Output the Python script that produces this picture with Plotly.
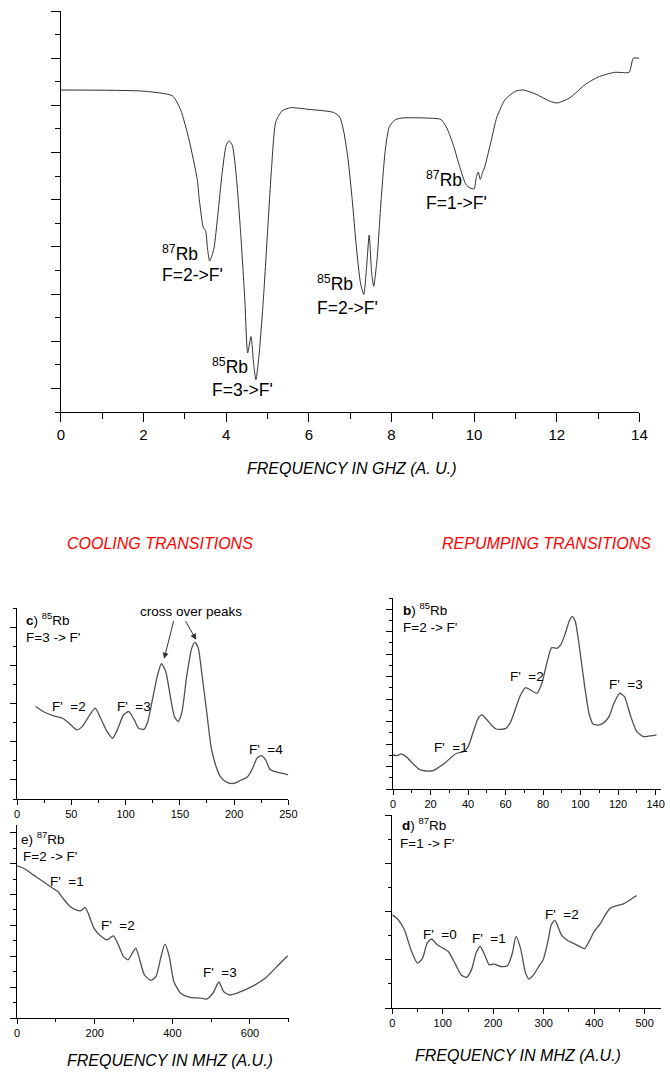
import plotly.graph_objects as go

# ---------------- data ----------------
# (a) full Rb absorption spectrum, frequency in GHz, signal in arbitrary units
top_freq = [0, 2.0, 2.7, 2.9, 3.1, 3.3, 3.35, 3.45, 3.5, 3.55, 3.6, 3.7, 3.8, 3.9, 4.0,
            4.07, 4.15, 4.25, 4.35, 4.45, 4.52, 4.6, 4.67, 4.72, 4.8, 4.9, 5.0, 5.1, 5.2, 5.35,
            5.55, 6.0, 6.6, 6.75, 6.85, 6.95, 7.05, 7.15, 7.25, 7.33, 7.4, 7.46, 7.52, 7.57, 7.65,
            7.75, 7.85, 7.95, 8.1, 8.3, 9.0, 9.2, 9.35, 9.5, 9.65, 9.8, 9.9, 10.0, 10.05, 10.1,
            10.15, 10.2, 10.25, 10.4, 10.55, 10.75, 11.0, 11.2, 11.5, 11.8, 12.0, 12.3, 12.7, 13.0, 13.4,
            13.75, 13.8, 13.85, 14.0]
top_signal = [13.65, 13.6, 13.4, 12.8, 11.55, 9.86, 9.0, 7.8, 7.7, 6.9, 6.4, 6.9, 8.4, 10.1, 11.3,
              11.5, 11.3, 9.9, 7.6, 4.8, 2.5, 3.2, 1.94, 1.37, 2.5, 4.77, 7.6, 10.4, 12.3, 12.76,
              12.9, 12.83, 12.7, 12.5, 11.84, 10.7, 9.0, 7.0, 5.47, 4.98, 6.2, 7.5, 5.9, 5.33, 6.46,
              9.0, 11.1, 12.1, 12.4, 12.47, 12.45, 12.4, 12.0, 11.3, 10.4, 9.65, 9.5, 9.46, 9.93, 10.17,
              9.86, 10.14, 10.35, 11.4, 12.5, 13.25, 13.6, 13.65, 13.47, 13.2, 13.1, 13.3, 13.9, 14.2, 14.4,
              14.4, 14.67, 15.0, 15.0]

# (c) 85Rb F=3 -> F'
c_freq = [17, 24, 33, 42, 48, 55, 60, 67, 72, 77, 83, 88, 93, 98, 103, 108, 112, 117, 120.5, 125,
          129.5, 133, 137, 141.5, 145, 148.5, 152, 156.5, 161, 164, 167, 170, 174.7, 179, 184,
          188, 194, 200, 206, 212, 217, 221, 225, 229, 233, 238, 244, 250]
c_signal = [4.84, 4.58, 4.37, 4.23, 3.97, 3.62, 3.79, 4.4, 4.76, 4.23, 3.53, 3.18, 3.7, 4.4, 4.58,
            4.14, 3.7, 3.65, 4.06, 5.28, 6.5, 7.08, 6.68, 5.28, 4.32, 4.06, 4.58, 6.5, 7.9, 8.2,
            7.9, 6.68, 4.58, 2.66, 1.6, 1.12, 0.86, 0.82, 0.98, 1.14, 1.6, 2.13, 2.27, 2.05, 1.56,
            1.43, 1.35, 1.26]

# (e) 87Rb F=2 -> F'
e_freq = [0, 17, 42, 67, 88, 105, 118, 135, 152, 164, 175, 185, 198, 215, 232, 248, 261, 274, 286, 297,
          306, 316, 328, 345, 358, 371, 381, 392, 404, 421, 446, 472, 488, 505, 520, 532, 547, 573,
          606, 640, 674, 697]
e_signal = [9.85, 9.7, 9.27, 8.84, 8.47, 8.19, 7.76, 7.26, 7.0, 6.94, 7.16, 6.68, 5.82, 5.32, 5.06,
            5.32, 4.74, 3.99, 3.77, 4.2, 4.53, 3.77, 2.8, 2.44, 2.69, 3.99, 4.78, 3.99, 2.37, 1.62,
            1.34, 1.29, 1.23, 1.62, 2.33, 1.72, 1.49, 1.68, 2.05, 2.59, 3.45, 4.03]

# (b) 85Rb F=2 -> F'
b_freq = [0, 2.1, 4.4, 7, 10.5, 14, 17.5, 21.3, 24.4, 27.9, 31.4, 34, 37.5, 40.1, 42.8, 45.4, 47.5,
          49.7, 52.4, 55, 57.6, 60.2, 62.8, 65.4, 68, 70.7, 73.3, 76.8, 79.4, 82, 84.6, 87.3, 89.4,
          91.6, 94.2, 95.6, 97.2, 99.5, 102.1, 104.7, 106.8, 110, 112.6, 115.2, 117.8, 120.8, 123.4,
          126.5, 130, 133.5, 137, 140.5]
b_signal = [3.03, 2.97, 3.12, 2.88, 2.28, 1.75, 1.6, 1.63, 1.93, 2.34, 2.88, 3.18, 3.32, 3.77, 5.1,
            6.29, 6.59, 6.23, 5.7, 5.34, 5.31, 5.4, 6.0, 7.18, 8.37, 9.02, 8.81, 8.52, 9.41, 11.19,
            12.58, 12.52, 12.82, 13.71, 15.04, 15.34, 14.9, 12.52, 9.26, 6.59, 5.76, 5.7, 5.93, 6.44,
            7.63, 8.52, 8.22, 6.59, 5.1, 4.66, 4.72, 4.81]

# (d) 87Rb F=1 -> F'
d_freq = [0, 11, 24, 37, 50, 60, 69, 78, 89, 102, 111, 124, 136, 147, 157, 166, 174, 183, 192, 202,
          215, 228, 238, 245, 254, 264, 271, 280, 290, 299, 309, 315, 322, 328, 335, 348, 361, 374,
          381, 390, 400, 413, 422, 432, 443, 458, 471, 481, 484]
d_signal = [3.86, 3.68, 3.24, 2.41, 1.86, 2.07, 2.69, 2.86, 2.62, 2.46, 2.34, 1.86, 1.38, 1.27, 1.59,
            2.28, 2.55, 2.21, 1.79, 1.82, 1.72, 1.75, 2.28, 2.97, 2.48, 1.45, 1.2, 1.38, 1.72, 2.0,
            2.83, 3.45, 3.63, 3.38, 3.03, 2.79, 2.66, 2.52, 2.46, 2.76, 3.17, 3.52, 3.86, 4.14, 4.23,
            4.32, 4.48, 4.62, 4.66]

# ---------------- figure ----------------
FONT = "Liberation Sans, Arial, sans-serif"
W, H = 670, 1072

def px_x(p):
    return p / W

def px_y(p):
    return 1 - p / H

fig = go.Figure()

traces = [
    (top_freq, top_signal, "x", "y", "#303030", 1.0),
    (c_freq, c_signal, "x2", "y2", "#505050", 1.3),
    (e_freq, e_signal, "x3", "y3", "#505050", 1.3),
    (b_freq, b_signal, "x4", "y4", "#505050", 1.3),
    (d_freq, d_signal, "x5", "y5", "#505050", 1.3),
]
for xs, ys, xa, ya, col, lw in traces:
    fig.add_trace(go.Scatter(x=xs, y=ys, xaxis=xa, yaxis=ya, mode="lines",
                             line=dict(color=col, width=lw, shape="spline", smoothing=0.6),
                             hoverinfo="skip", showlegend=False))


def xax(domain, rng, anchor, dtick, mdtick, fsize, tlen, mlen):
    return dict(domain=domain, range=rng, anchor=anchor, showline=True, linecolor="black",
                linewidth=1, showgrid=False, zeroline=False, ticks="outside", tickcolor="black",
                ticklen=tlen, tickwidth=1, tickmode="linear", tick0=0, dtick=dtick,
                tickfont=dict(family=FONT, size=fsize, color="black"),
                minor=dict(ticks="outside", tickmode="linear", tick0=0, dtick=mdtick,
                           ticklen=mlen, tickcolor="black", tickwidth=1, showgrid=False),
                fixedrange=True)


def yax(domain, rng, anchor, tick0, dtick, tlen, mlen):
    return dict(domain=domain, range=rng, anchor=anchor, showline=True, linecolor="black",
                linewidth=1, showgrid=False, zeroline=False, ticks="outside", tickcolor="black",
                ticklen=tlen, tickwidth=1, tickmode="linear", tick0=tick0, dtick=dtick,
                showticklabels=False,
                minor=dict(ticks="outside", tickmode="linear", tick0=0, dtick=1,
                           ticklen=mlen, tickcolor="black", tickwidth=1, showgrid=False),
                fixedrange=True)


fig.update_layout(
    width=W, height=H, margin=dict(l=0, r=0, t=0, b=0),
    paper_bgcolor="white", plot_bgcolor="white", showlegend=False,
    font=dict(family=FONT, color="black"),
    xaxis=xax([px_x(58), px_x(648)], [0, 14], "y", 2, 1, 15, 9, 6),
    yaxis=yax([px_y(412), px_y(11)], [0, 17], "x", 1, 2, 9, 5),
    xaxis2=xax([px_x(13.3), px_x(290)], [0, 250], "y2", 50, 25, 11, 5, 3),
    yaxis2=yax([px_y(799), px_y(608)], [0, 10], "x2", 1, 2, 6, 3),
    xaxis3=xax([px_x(13.3), px_x(290.4)], [0, 700], "y3", 200, 100, 11, 5, 3),
    yaxis3=yax([px_y(1018), px_y(825)], [0, 12.5], "x3", 0, 2, 6, 3),
    xaxis4=xax([px_x(396.7), 1.0], [0, 142.9], "y4", 20, 10, 11, 5, 3),
    yaxis4=yax([px_y(789), px_y(598)], [0, 17], "x4", 0, 2, 6, 3),
    xaxis5=xax([px_x(396), 1.0], [0, 532.4], "y5", 100, 50, 11, 5, 3),
    yaxis5=yax([px_y(1008), px_y(815)], [0, 8], "x5", 0, 2, 6, 3),
)

ann = []


def label(text, x, y, xr, yr, size, anchor="center"):
    ann.append(dict(text=text, x=x, y=y, xref=xr, yref=yr, showarrow=False,
                    xanchor=anchor, yanchor="middle",
                    font=dict(family=FONT, size=size, color="black")))

# top panel labels
TS = 17.5
label("<sup>87</sup>Rb", 2.40, 6.75, "x", "y", TS, "left")
label("F=2->F'", 2.40, 5.79, "x", "y", TS, "left")
label("<sup>85</sup>Rb", 3.62, 1.94, "x", "y", TS, "left")
label("F=3->F'", 3.62, 0.95, "x", "y", TS, "left")
label("<sup>85</sup>Rb", 6.15, 5.47, "x", "y", TS, "left")
label("F=2->F'", 6.15, 4.41, "x", "y", TS, "left")
label("<sup>87</sup>Rb", 8.78, 9.86, "x", "y", TS, "left")
label("F=1->F'", 8.78, 8.87, "x", "y", TS, "left")

SS = 13.5
# panel c
label("<b>c</b>) <sup>85</sup>Rb", 6, 9.44, "x2", "y2", SS, "left")
label("F=3 -> F'", 6, 8.46, "x2", "y2", SS, "left")
label("cross over peaks", 160.5, 9.83, "x2", "y2", SS)
label("F'\u00a0 =2", 47.6, 4.84, "x2", "y2", SS)
label("F'\u00a0 =3", 108, 4.84, "x2", "y2", SS)
label("F'\u00a0 =4", 229, 2.57, "x2", "y2", SS)
for hx, hy, tx, ty in [(135.5, 7.34, 144.6, 9.39), (165, 8.34, 154.5, 9.39)]:
    ann.append(dict(x=hx, y=hy, ax=tx, ay=ty, xref="x2", yref="y2", axref="x2", ayref="y2",
                    showarrow=True, arrowhead=2, arrowsize=1.2, arrowwidth=1, arrowcolor="#333",
                    text=""))
# panel e
label("e) <sup>87</sup>Rb", 6, 11.64, "x3", "y3", SS, "left")
label("F=2 -> F'", 10, 10.45, "x3", "y3", SS, "left")
label("F'\u00a0 =1", 128, 8.84, "x3", "y3", SS)
label("F'\u00a0 =2", 261, 6.0, "x3", "y3", SS)
label("F'\u00a0 =3", 522, 2.97, "x3", "y3", SS)
# panel b
label("<b>b</b>) <sup>85</sup>Rb", 4.3, 16.0, "x4", "y4", SS, "left")
label("F=2 -> F'", 4.3, 14.4, "x4", "y4", SS, "left")
label("F'\u00a0 =1", 31, 3.7, "x4", "y4", SS)
label("F'\u00a0 =2", 71.6, 10.0, "x4", "y4", SS)
label("F'\u00a0 =3", 124, 9.26, "x4", "y4", SS)
# panel d
label("<b>d</b>) <sup>87</sup>Rb", 15, 7.63, "x5", "y5", SS, "left")
label("F=1 -> F'", 11, 6.83, "x5", "y5", SS, "left")
label("F'\u00a0 =0", 95, 3.06, "x5", "y5", SS)
label("F'\u00a0 =1", 192, 2.9, "x5", "y5", SS)
label("F'\u00a0 =2", 337, 3.86, "x5", "y5", SS)

# titles / headings (paper coordinates)
def ptext(text, xp, yp, size, color="black"):
    ann.append(dict(text=text, x=px_x(xp), y=px_y(yp), xref="paper", yref="paper",
                    showarrow=False, xanchor="center", yanchor="middle",
                    font=dict(family=FONT, size=size, color=color)))

ptext("<i>FREQUENCY IN GHZ (A. U.)</i>", 355, 468, 16)
ptext("<i>COOLING TRANSITIONS</i>", 159, 543, 16, "#ff0000")
ptext("<i>REPUMPING TRANSITIONS</i>", 553, 543, 16, "#ff0000")
ptext("<i>FREQUENCY IN MHZ (A.U.)</i>", 169, 1060, 16)
ptext("<i>FREQUENCY IN MHZ (A.U.)</i>", 524, 1055, 16)

fig.update_layout(annotations=ann)
fig.write_html("out.html")
